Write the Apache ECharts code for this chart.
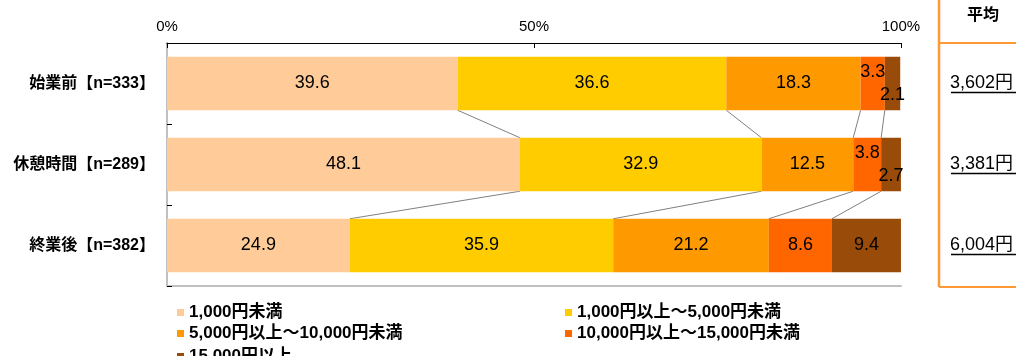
<!DOCTYPE html>
<html>
<head>
<meta charset="utf-8">
<script src="https://cdn.jsdelivr.net/npm/echarts@6/dist/echarts.min.js"></script>
<style>
html,body{margin:0;padding:0;background:#fff;}
#c{width:1016px;height:356px;}
</style>
</head>
<body>
<div id="c"></div>
<script>
const categories = ['始業前【n=333】', '休憩時間【n=289】', '終業後【n=382】'];
const seriesNames = ['1,000円未満', '1,000円以上～5,000円未満', '5,000円以上～10,000円未満', '10,000円以上～15,000円未満', '15,000円以上'];
const under1000 = [39.6, 48.1, 24.9];
const from1000to5000 = [36.6, 32.9, 35.9];
const from5000to10000 = [18.3, 12.5, 21.2];
const from10000to15000 = [3.3, 3.8, 8.6];
const over15000 = [2.1, 2.7, 9.4];
const averages = ['3,602円', '3,381円', '6,004円'];
const xTickValues = [0, 50, 100];

const allSeries = [under1000, from1000to5000, from5000to10000, from10000to15000, over15000];
const colors = ['#FFCC99', '#FFCC00', '#FF9900', '#FF6600', '#994C0A'];
const FONT = "'Liberation Sans','Noto Sans CJK JP',sans-serif";
const BAR_RATIO = 0.66;

function cumulative(ci) {
  const out = [];
  let s = 0;
  for (let k = 0; k < allSeries.length - 1; k++) { s += allSeries[k][ci]; out.push(s); }
  return out;
}

const barSeries = allSeries.map((arr, si) => ({
  type: 'bar',
  name: seriesNames[si],
  stack: 'total',
  barWidth: (BAR_RATIO * 100) + '%',
  itemStyle: { color: colors[si] },
  data: arr.map(v => {
    let offset = [0, 0];
    if (v < 5 && si === 3) offset = [0, -11];
    if (v < 5 && si === 4) offset = [0, 12];
    return { value: v, label: { offset: offset } };
  }),
  label: {
    show: true,
    position: 'inside',
    color: '#000',
    fontSize: 18,
    fontFamily: FONT,
    formatter: p => p.value.toFixed(1)
  },
  z: 3
}));

const connectorSeries = {
  type: 'custom',
  name: 'connectors',
  data: [[0, 0], [0, 1]],
  encode: { x: 0, y: 1 },
  silent: true,
  z: 2,
  renderItem: function (params, api) {
    const i = api.value(1);
    const a = cumulative(i), b = cumulative(i + 1);
    const half = api.size([0, 1])[1] * BAR_RATIO / 2;
    const children = a.map((v, k) => {
      const p1 = api.coord([v, i]);
      const p2 = api.coord([b[k], i + 1]);
      return {
        type: 'line',
        shape: { x1: p1[0], y1: p1[1] + half, x2: p2[0], y2: p2[1] - half },
        style: { stroke: '#808080', lineWidth: 1 }
      };
    });
    return { type: 'group', children: children };
  }
};

// legend placement: two columns, three rows
const legendSlots = [[172, 299], [560, 299], [172, 320], [560, 320], [172, 343]];
const legends = seriesNames.map((n, i) => ({
  orient: 'horizontal', left: legendSlots[i][0], top: legendSlots[i][1],
  itemWidth: 7, itemHeight: 7, icon: 'rect',
  data: [n],
  textStyle: { fontSize: 17, fontWeight: 'bold', color: '#000', fontFamily: FONT }
}));

const chart = echarts.init(document.getElementById('c'), null, { renderer: 'canvas' });
const option = {
  animation: false,
  backgroundColor: '#fff',
  textStyle: { fontFamily: FONT },
  grid: { left: 167, right: 114, top: 43, bottom: 70, containLabel: false },
  xAxis: [{
    type: 'value', position: 'top', min: xTickValues[0], max: xTickValues[xTickValues.length - 1], interval: xTickValues[1] - xTickValues[0],
    axisLine: { show: true, lineStyle: { color: '#000', width: 1 } },
    axisTick: { show: true, inside: true, length: 5, lineStyle: { color: '#000' } },
    axisLabel: { formatter: '{value}%', color: '#000', fontSize: 15, fontFamily: FONT, margin: 9 },
    splitLine: { show: false }
  }, {
    type: 'value', position: 'bottom', min: 0, max: 100,
    axisLine: { show: true, lineStyle: { color: '#C0C0C0', width: 2 } },
    axisTick: { show: false }, axisLabel: { show: false }, splitLine: { show: false }
  }],
  yAxis: [{
    type: 'category', data: categories, inverse: true,
    axisLine: { show: true, lineStyle: { color: '#000', width: 1 } },
    axisTick: { show: true, inside: true, length: 5, lineStyle: { color: '#000' } },
    axisLabel: { color: '#000', fontSize: 16, fontWeight: 'bold', fontFamily: FONT, margin: 12 }
  }, {
    type: 'category', data: categories, inverse: true, position: 'right',
    axisLine: { show: true, lineStyle: { color: '#C0C0C0', width: 2 } },
    axisTick: { show: false },
    axisLabel: {
      color: '#000', fontSize: 18, fontFamily: FONT, margin: 49,
      formatter: (v, idx) => averages[idx]
    }
  }],
  legend: legends,
  series: barSeries.concat([connectorSeries])
};
chart.setOption(option);

// table decorations on the right: orange frame, header, underlines
const graphics = [
  { type: 'line', shape: { x1: 939, y1: 0, x2: 939, y2: 287 }, style: { stroke: '#FF9933', lineWidth: 2.5 } },
  { type: 'line', shape: { x1: 939, y1: 43, x2: 1016, y2: 43 }, style: { stroke: '#FF9933', lineWidth: 2 } },
  { type: 'line', shape: { x1: 939, y1: 287, x2: 1016, y2: 287 }, style: { stroke: '#FF9933', lineWidth: 2 } },
  { type: 'text', x: 983, y: 16, style: { text: '平均', fill: '#000', font: 'bold 16px ' + FONT, textAlign: 'center', textVerticalAlign: 'middle' } }
];
categories.forEach((c, i) => {
  const y = chart.convertToPixel({ yAxisIndex: 1 }, c);
  graphics.push({ type: 'line', shape: { x1: 951, y1: y + 9, x2: 1016, y2: y + 9 }, style: { stroke: '#000', lineWidth: 1.5 } });
});
chart.setOption({ graphic: graphics });
</script>
</body>
</html>
